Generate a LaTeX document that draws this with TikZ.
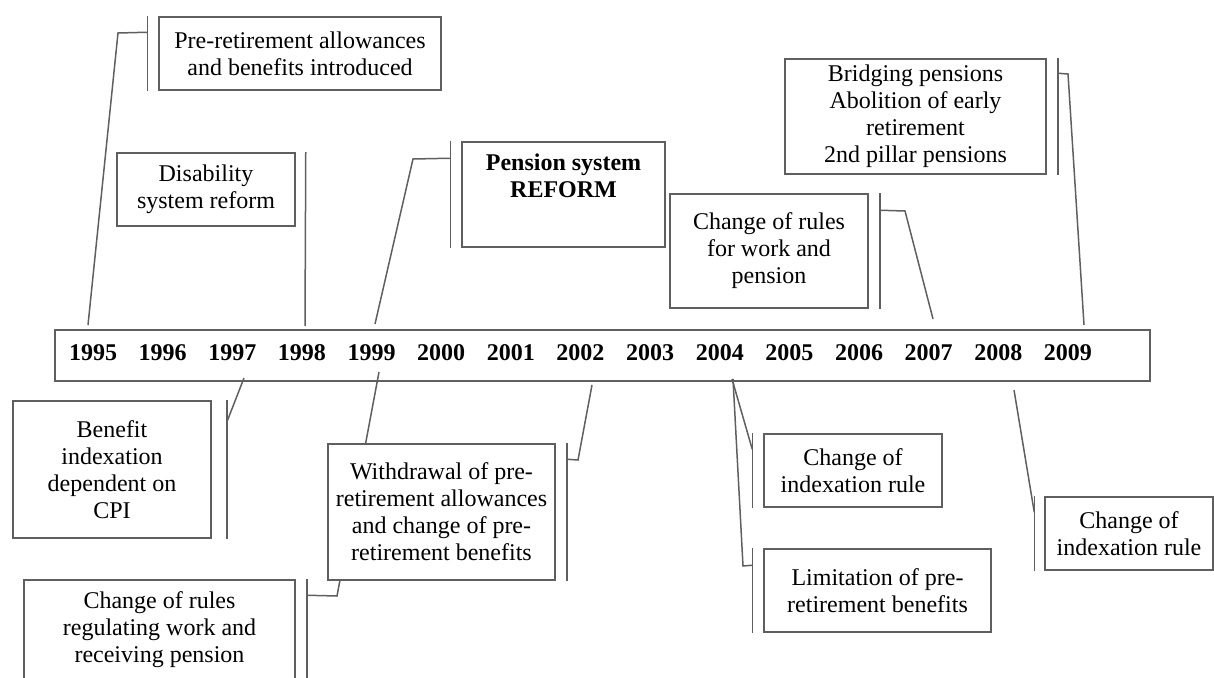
\documentclass[tikz,border=0pt]{standalone}
\usepackage{fontspec}
\setmainfont{Liberation Serif}
\usetikzlibrary{calc,backgrounds}

\definecolor{linegray}{RGB}{95,95,95}
\tikzset{
  callout/.style={draw=linegray, line width=0.75pt, fill=white, align=center, inner sep=0pt,
    font=\fontsize{12}{13.5}\selectfont},
  yearlab/.style={font=\fontsize{12}{13.5}\selectfont\bfseries, anchor=base, inner sep=0pt},
  bar/.style={draw=linegray, line width=0.75pt},
}

\begin{document}
\begin{tikzpicture}[x=0.5pt, y=-0.5pt]
\useasboundingbox (0,0) rectangle (1214,678);
\clip (0,0) rectangle (1214,678);

% time line
\node[draw=linegray, line width=0.75pt, minimum width=547.5pt, minimum height=25.5pt, inner sep=0pt] (years) at (602.5,355.5) {};
\foreach \yr [count=\i from 0] in {1995,...,2009}
  \node[yearlab] (y\yr) at (93+69.64*\i,360) {\yr};

% boxes above the line
\node[callout, minimum width=141pt, minimum height=36.5pt] (bA) at (300,53.5) {Pre-retirement allowances\\and benefits introduced};
\node[callout, minimum width=89pt, minimum height=36.5pt] (bB) at (206,189.5) {Disability\\system reform};
\node[callout, minimum width=101.5pt, minimum height=52.5pt] (bC) at (563.5,194.5) {};
\node[font=\fontsize{12}{13.5}\selectfont\bfseries, align=center, anchor=north] (tC) at ($(bC.north)+(0,6)$) {Pension system\\REFORM};
\node[callout, minimum width=99pt, minimum height=57pt] (bD) at (769,251) {Change of rules\\for work and\\pension};
\node[callout, minimum width=130.5pt, minimum height=57.5pt] (bE) at (915.5,116.5) {Bridging pensions\\Abolition of early\\retirement\\2nd pillar pensions};

% boxes below the line
\node[callout, minimum width=99pt, minimum height=68.5pt] (bF) at (112,469.5) {Benefit\\indexation\\dependent on\\CPI};
\node[callout, minimum width=113.5pt, minimum height=68pt] (bG) at (441.5,512) {Withdrawal of pre-\\retirement allowances\\and change of pre-\\retirement benefits};
\node[callout, minimum width=135.5pt, minimum height=55pt] (bI) at (159.5,635) {};
\node[font=\fontsize{12}{13.5}\selectfont, align=center, anchor=north] (tI) at ($(bI.north)+(0,5)$) {Change of rules\\regulating work and\\receiving pension};
\node[callout, minimum width=89pt, minimum height=36.5pt] (bJ) at (853,470.5) {Change of\\indexation rule};
\node[callout, minimum width=113.5pt, minimum height=41.5pt] (bK) at (877.5,590.5) {Limitation of pre-\\retirement benefits};
\node[callout, minimum width=84pt, minimum height=36.5pt] (bL) at (1129,533.5) {Change of\\indexation rule};

% leader bends and ends
\coordinate (kA) at (118,33);
\coordinate (tA) at (88,325);
\coordinate (tB) at (305,326);
\coordinate (kC) at (413,159);
\coordinate (tC2) at (375,324);
\coordinate (kD) at (905,211);
\coordinate (tD) at (933,319);
\coordinate (kE) at (1068,74);
\coordinate (tE) at (1084,325);
\coordinate (tF) at (244,378);
\coordinate (kG) at (578,460);
\coordinate (tG) at (592,385);
\coordinate (kI) at (337,596);
\coordinate (tI2) at (379,372);
\coordinate (tJ) at (732,379);
\coordinate (kK) at (743,566);
\coordinate (tK) at (733,379);
\coordinate (tL) at (1014,390);

\begin{scope}[on background layer]
% bars
\draw[bar] ($(bA.north west)+(-11,0)$) -- ($(bA.south west)+(-11,0)$);
\draw[bar] ($(bB.north east)+(10,0)$) -- (tB);
\draw[bar] ($(bC.north west)+(-11,0)$) -- ($(bC.south west)+(-11,0)$);
\draw[bar] ($(bD.north east)+(11,0)$) -- ($(bD.south east)+(11,0)$);
\draw[bar] ($(bE.north east)+(11,0)$) -- ($(bE.south east)+(11,0)$);
\draw[bar] ($(bF.north east)+(15,0)$) -- ($(bF.south east)+(15,0)$);
\draw[bar] ($(bG.north east)+(11,0)$) -- ($(bG.south east)+(11,0)$);
\draw[bar] ($(bI.north east)+(11,0)$) -- ($(bI.south east)+(11,0)$);
\draw[bar] ($(bJ.north west)+(-11,0)$) -- ($(bJ.south west)+(-11,0)$);
\draw[bar] ($(bK.north west)+(-11,0)$) -- ($(bK.south west)+(-11,0)$);
\draw[bar] ($(bL.north west)+(-10,0)$) -- ($(bL.south west)+(-10,0)$);
% leaders to the years
\draw[bar] ($(bA.north west)+(-11,16)$) -- (kA) -- (tA);
\draw[bar] ($(bC.north west)+(-11,17)$) -- (kC) -- (tC2);
\draw[bar] ($(bD.north east)+(11,17)$) -- (kD) -- (tD);
\draw[bar] ($(bE.north east)+(11,15)$) -- (kE) -- (tE);
\draw[bar] ($(bF.north east)+(15,22)$) -- (tF);
\draw[bar] ($(bG.north east)+(11,16)$) -- (kG) -- (tG);
\draw[bar] ($(bI.north east)+(11,16)$) -- (kI) -- (tI2);
\draw[bar] ($(bJ.north west)+(-11,16)$) -- (tJ);
\draw[bar] ($(bK.north west)+(-11,17)$) -- (kK) -- (tK);
\draw[bar] ($(bL.north west)+(-10,16)$) -- (tL);
\end{scope}
\end{tikzpicture}
\end{document}
